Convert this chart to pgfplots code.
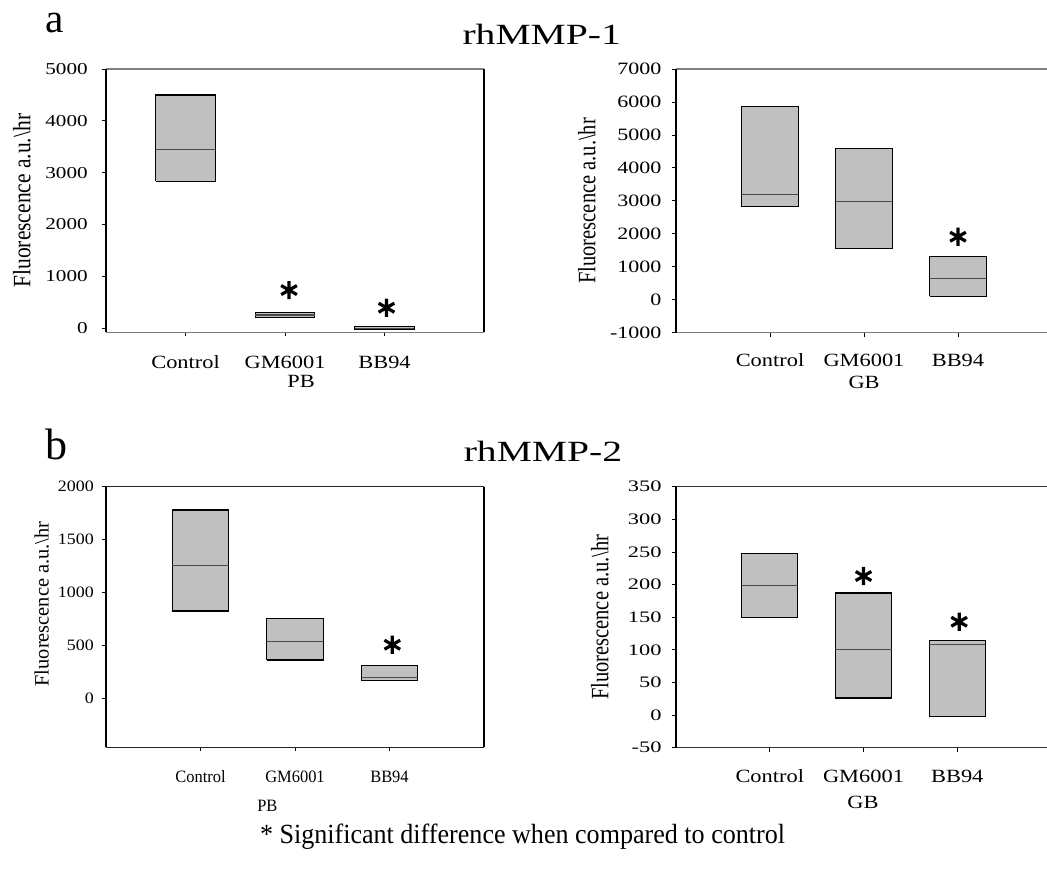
\documentclass[border=0pt]{standalone}
\usepackage{fontspec}
\setmainfont{Liberation Serif}
\newfontfamily\tickA[FakeStretch=1.27]{Liberation Serif}
\newfontfamily\tickB[FakeStretch=1.13]{Liberation Serif}
\newfontfamily\tickD[FakeStretch=1.4]{Liberation Serif}
\newfontfamily\catA[FakeStretch=1.2]{Liberation Serif}
\newfontfamily\catB[FakeStretch=0.95]{Liberation Serif}
\newfontfamily\ylabA[FakeStretch=0.86]{Liberation Serif}
\newfontfamily\ylabD[FakeStretch=0.82]{Liberation Serif}
\newfontfamily\titfont[FakeStretch=1.35]{Liberation Serif}
\newfontfamily\footfont[FakeStretch=0.94]{Liberation Serif}
\usepackage{pgfplots}
\pgfplotsset{compat=1.18}
\definecolor{boxgray}{HTML}{C0C0C0}
\definecolor{medgray}{HTML}{4A4A4A}
\definecolor{axgray}{HTML}{7F7F7F}
\pgfplotsset{
  panel/.style={
    scale only axis,
    separate axis lines,
    axis x line*=box,
    axis y line*=left,
    x axis line style={color=axgray, line width=1pt},
    y axis line style={color=black, line width=1pt},
    xtick={1,2,3},
    xticklabels={Control,GM6001,BB94},
    tick align=outside,
    xtick pos=lower,
    ytick pos=left,
    major tick length=3pt,
    tick style={color=black, line width=0.6pt},
    /pgf/number format/assume math mode=true,
    /pgf/number format/1000 sep={},
    xticklabel style={anchor=base, inner sep=0pt},
    yticklabel style={anchor=east, inner sep=0pt},
    clip=false,
  },
  fullbox/.style={axis y line*=box, ytick pos=left},
  boxst/.style={fill=boxgray, draw=black, line width=0.9pt, line join=miter, mark=none},
  medst/.style={draw=medgray, line width=0.8pt, mark=none},
  starst/.style={only marks, mark=asterisk, mark size=6.8pt, draw=black, mark options={line width=2.4pt, draw=black}},
}
\begin{document}
\begin{tikzpicture}
\useasboundingbox (0,0) rectangle (785.25pt,-652.5pt);
% ---------- a: PB ----------
\begin{axis}[panel, fullbox,
  at={(79.5pt,-51.75pt)}, anchor=north west,
  width=283.5pt, height=197.5pt,
  xmin=0.2, xmax=4, ymin=-80, ymax=5000,
  ytick={0,1000,2000,3000,4000,5000},
  xticklabel style={font=\catA\fontsize{14}{16}\selectfont, yshift=-24.3pt},
  yticklabel style={font=\tickA\fontsize{12.5}{14}\selectfont, xshift=-10.5pt},
  ylabel={Fluorescence a.u.\textbackslash hr},
  every axis y label/.style={at={(axis description cs:0,0.5)}, xshift=-63pt, rotate=90, anchor=center, font=\ylabA\fontsize{18.75}{20}\selectfont},
  xlabel={PB},
  every axis x label/.style={at={(axis description cs:0.516,0)}, anchor=base, yshift=-41.5pt, font=\catA\fontsize{14}{16}\selectfont},
]
\addplot[boxst] coordinates {(0.7,2830) (1.3,2830) (1.3,4500) (0.7,4500) (0.7,2830)};
\addplot[medst] coordinates {(0.7,3450) (1.3,3450)};
\addplot[boxst] coordinates {(1.7,210) (2.3,210) (2.3,300) (1.7,300) (1.7,210)};
\addplot[medst] coordinates {(1.7,255) (2.3,255)};
\addplot[boxst] coordinates {(2.7,-32) (3.3,-32) (3.3,32) (2.7,32) (2.7,-32)};
\addplot[medst] coordinates {(2.7,0) (3.3,0)};
\addplot[starst] coordinates {(2.04,735) (3.02,395)};
\end{axis}
% ---------- a: GB ----------
\begin{axis}[panel,
  at={(507pt,-51.75pt)}, anchor=north west,
  width=278.25pt, height=197.8pt,
  xmin=0, xmax=3.947, ymin=-1000, ymax=7000,
  ytick={-1000,0,1000,2000,3000,4000,5000,6000,7000},
  xticklabel style={font=\catA\fontsize{14}{16}\selectfont, yshift=-22.5pt},
  yticklabel style={font=\tickA\fontsize{13}{15}\selectfont, xshift=-7.7pt},
  ylabel={Fluorescence a.u.\textbackslash hr},
  every axis y label/.style={at={(axis description cs:0,0.5)}, xshift=-66.75pt, rotate=90, anchor=center, font=\ylabD\fontsize{18.75}{20}\selectfont},
  xlabel={GB},
  every axis x label/.style={at={(axis description cs:0.507,0)}, anchor=base, yshift=-41.7pt, font=\catA\fontsize{14}{16}\selectfont},
]
\addplot[boxst] coordinates {(0.7,2820) (1.3,2820) (1.3,5870) (0.7,5870) (0.7,2820)};
\addplot[medst] coordinates {(0.7,3200) (1.3,3200)};
\addplot[boxst] coordinates {(1.7,1550) (2.3,1550) (2.3,4580) (1.7,4580) (1.7,1550)};
\addplot[medst] coordinates {(1.7,2985) (2.3,2985)};
\addplot[boxst] coordinates {(2.7,105) (3.3,105) (3.3,1305) (2.7,1305) (2.7,105)};
\addplot[medst] coordinates {(2.7,640) (3.3,640)};
\addplot[starst] coordinates {(3,1912)};
\end{axis}
% ---------- b: PB ----------
\begin{axis}[panel, fullbox,
  at={(79.5pt,-365pt)}, anchor=north west,
  width=283.5pt, height=195.45pt,
  xmin=0, xmax=4, ymin=-458, ymax=2000,
  ytick={0,500,1000,1500,2000},
  x axis line style={color=black!85, line width=1pt},
  xticklabel style={font=\catB\fontsize{13}{15}\selectfont, yshift=-23.25pt},
  yticklabel style={font=\tickB\fontsize{11.9}{14}\selectfont, xshift=-6pt},
  ylabel={Fluorescence a.u.\textbackslash hr},
  every axis y label/.style={at={(axis description cs:0,0.55)}, xshift=-48.2pt, rotate=90, anchor=center, font=\fontsize{15.3}{17}\selectfont},
  xlabel={PB},
  every axis x label/.style={at={(axis description cs:0.427,0)}, anchor=base, yshift=-48.3pt, font=\catB\fontsize{13}{15}\selectfont},
]
\addplot[boxst] coordinates {(0.7,827) (1.3,827) (1.3,1780) (0.7,1780) (0.7,827)};
\addplot[medst] coordinates {(0.7,1255) (1.3,1255)};
\addplot[boxst] coordinates {(1.7,365) (2.3,365) (2.3,755) (1.7,755) (1.7,365)};
\addplot[medst] coordinates {(1.7,538) (2.3,538)};
\addplot[boxst] coordinates {(2.7,170) (3.3,170) (3.3,311) (2.7,311) (2.7,170)};
\addplot[medst] coordinates {(2.7,198) (3.3,198)};
\addplot[starst] coordinates {(3.03,509)};
\end{axis}
% ---------- b: GB ----------
\begin{axis}[panel,
  at={(507pt,-365pt)}, anchor=north west,
  width=278.25pt, height=195.75pt,
  xmin=0, xmax=3.957, ymin=-50, ymax=350,
  ytick={-50,0,50,100,150,200,250,300,350},
  x axis line style={color=black!80, line width=1pt},
  xticklabel style={font=\catA\fontsize{14}{16}\selectfont, yshift=-23pt},
  yticklabel style={font=\tickD\fontsize{12}{14}\selectfont, xshift=-7.7pt},
  ylabel={Fluorescence a.u.\textbackslash hr},
  every axis y label/.style={at={(axis description cs:0,0.5)}, xshift=-57pt, rotate=90, anchor=center, font=\ylabD\fontsize{18.75}{20}\selectfont},
  xlabel={GB},
  every axis x label/.style={at={(axis description cs:0.504,0)}, anchor=base, yshift=-45.5pt, font=\catA\fontsize{14}{16}\selectfont},
]
\addplot[boxst] coordinates {(0.7,149) (1.3,149) (1.3,247) (0.7,247) (0.7,149)};
\addplot[medst] coordinates {(0.7,198) (1.3,198)};
\addplot[boxst] coordinates {(1.7,26) (2.3,26) (2.3,187) (1.7,187) (1.7,26)};
\addplot[medst] coordinates {(1.7,100) (2.3,100)};
\addplot[boxst] coordinates {(2.7,-2.5) (3.3,-2.5) (3.3,114) (2.7,114) (2.7,-2.5)};
\addplot[medst] coordinates {(2.7,108.5) (3.3,108.5)};
\addplot[starst] coordinates {(2,213) (3.02,143)};
\end{axis}
% ---------- titles ----------
\node[anchor=base west, inner sep=0pt, font=\fontsize{31}{34}\selectfont] at (34pt,-24.3pt) {a};
\node[anchor=base west, inner sep=0pt, font=\fontsize{33}{36}\selectfont] at (33.75pt,-344.5pt) {b};
\node[anchor=base, inner sep=0pt, font=\titfont\fontsize{22}{26}\selectfont] at (406.3pt,-33.2pt) {rhMMP-1};
\node[anchor=base, inner sep=0pt, font=\titfont\fontsize{22}{26}\selectfont] at (407.25pt,-346.3pt) {rhMMP-2};
\node[anchor=base, inner sep=0pt, font=\footfont\fontsize{20.8}{24}\selectfont] at (391.9pt,-632.25pt) {* Significant difference when compared to control};
\end{tikzpicture}
\end{document}
